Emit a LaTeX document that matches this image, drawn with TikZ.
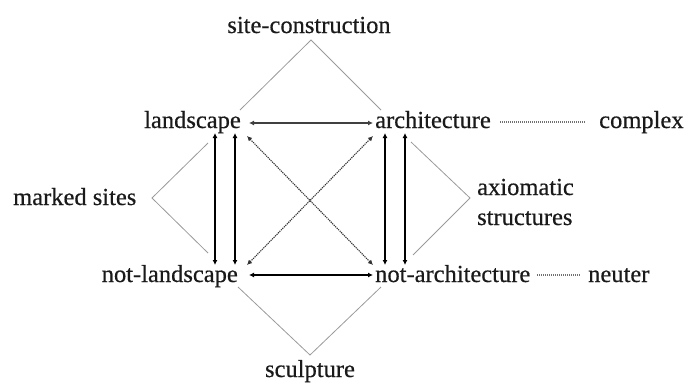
\documentclass[tikz,border=0pt]{standalone}
\usepackage{fontspec}
\setmainfont{Liberation Serif}[FakeBold=0.5]
\usetikzlibrary{arrows.meta}
\definecolor{inkdark}{HTML}{1A1A1A}
\definecolor{bracketgray}{HTML}{9A9A9A}
\definecolor{dotgray}{HTML}{707070}
\tikzset{
  lbl/.style={inner sep=0pt, text=inkdark, font=\fontsize{24.5}{28}\selectfont},
  bracket/.style={draw=bracketgray, line width=0.8pt},
  tip/.style={{Latex[length=5pt,width=5pt]}-{Latex[length=5pt,width=5pt]}},
  vbar/.style={tip, draw=black, line width=1.5pt},
  hbartop/.style={tip, draw=black!75, line width=1.6pt},
  hbarbot/.style={tip, draw=black, line width=2pt},
  diag/.style={tip, draw=black!80, line width=1.1pt, dash pattern=on 1.2pt off 0.9pt},
  leader/.style={draw=dotgray, line width=1.3pt, dash pattern=on 1pt off 1pt}
}
\begin{document}
\begin{tikzpicture}[x=1pt, y=-1pt]
\useasboundingbox (0,0) rectangle (686,383);

% the four terms and their outer labels
\node[lbl, anchor=base] (sitecon) at (309,33) {site-construction};
\node[lbl, anchor=base east] (land) at (241,128) {landscape};
\node[lbl, anchor=base west] (arch) at (375,128) {architecture};
\node[lbl, anchor=base west] (complex) at (599,128) {complex};
\node[lbl, anchor=base west] (marked) at (13,205) {marked sites};
\node[lbl, anchor=base west] (axio) at (477,195) {axiomatic};
\node[lbl, anchor=base west] (struct) at (477,225) {structures};
\node[lbl, anchor=base east] (notland) at (238,282) {not-landscape};
\node[lbl, anchor=base west] (notarch) at (375,282) {not-architecture};
\node[lbl, anchor=base west] (neuter) at (588,282) {neuter};
\node[lbl, anchor=base] (sculpt) at (310,377) {sculpture};

% bracket corners
\coordinate (topL) at (240,110);
\coordinate (topA) at (311,40);
\coordinate (topR) at (381,110);
\coordinate (lefU) at (208,143);
\coordinate (lefA) at (152,198);
\coordinate (lefD) at (208,253);
\coordinate (rigU) at (411,142);
\coordinate (rigA) at (470,198);
\coordinate (rigD) at (413,255);
\coordinate (botL) at (238,287);
\coordinate (botA) at (310,355);
\coordinate (botR) at (381,287);

\draw[bracket] (topL) -- (topA) -- (topR);
\draw[bracket] (lefU) -- (lefA) -- (lefD);
\draw[bracket] (rigU) -- (rigA) -- (rigD);
\draw[bracket] (botL) -- (botA) -- (botR);

% arrow end points around the square
\coordinate (h1a) at (249,123);
\coordinate (h1b) at (373,123);
\coordinate (h2a) at (249,275);
\coordinate (h2b) at (373,275);
\coordinate (v1a) at (215,133);
\coordinate (v1b) at (215,265);
\coordinate (v2a) at (235,133);
\coordinate (v2b) at (235,265);
\coordinate (v3a) at (385,133);
\coordinate (v3b) at (385,265);
\coordinate (v4a) at (405,133);
\coordinate (v4b) at (405,265);
\coordinate (d1a) at (247,136);
\coordinate (d1b) at (373,265);
\coordinate (d2a) at (373,136);
\coordinate (d2b) at (247,265);

\draw[hbartop] (h1a) -- (h1b);
\draw[hbarbot] (h2a) -- (h2b);
\draw[vbar] (v1a) -- (v1b);
\draw[vbar] (v2a) -- (v2b);
\draw[vbar] (v3a) -- (v3b);
\draw[vbar] (v4a) -- (v4b);
\draw[diag] (d1a) -- (d1b);
\draw[diag] (d2a) -- (d2b);

% dotted leaders to the outer terms
\draw[leader] ([xshift=9pt,yshift=6pt]arch.base east) -- ([xshift=-14pt,yshift=6pt]complex.base west);
\draw[leader] ([xshift=7pt,yshift=7pt]notarch.base east) -- ([xshift=-8pt,yshift=7pt]neuter.base west);
\end{tikzpicture}
\end{document}
